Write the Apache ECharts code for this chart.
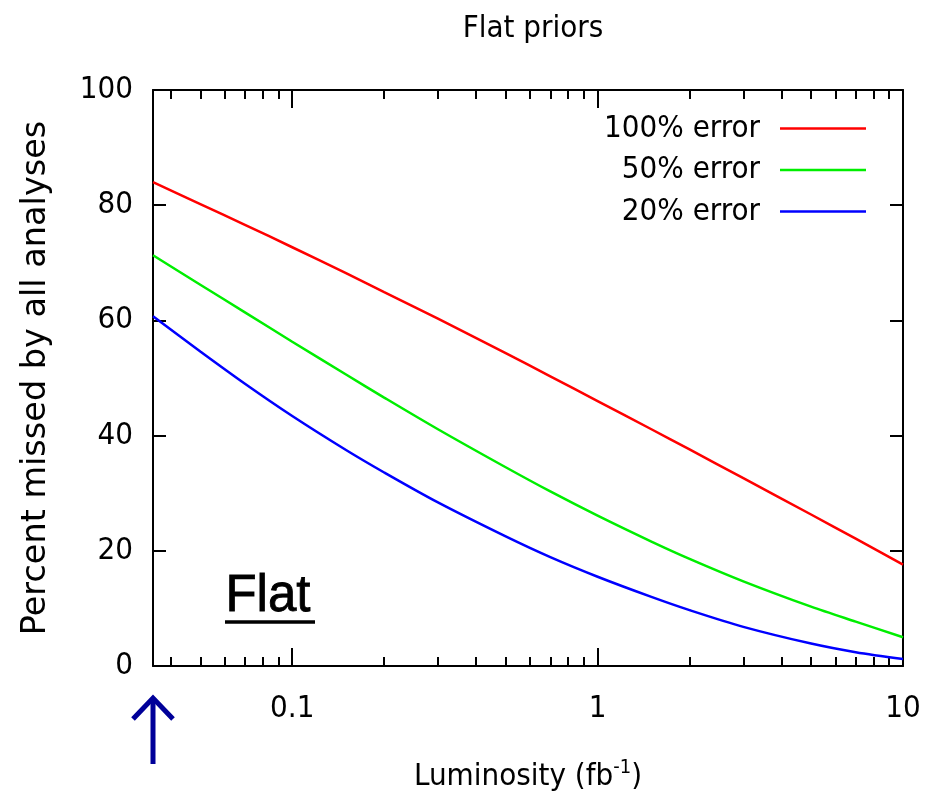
<!DOCTYPE html>
<html>
<head>
<meta charset="utf-8">
<script src="https://cdn.jsdelivr.net/npm/echarts@6/dist/echarts.min.js"></script>
<style>
  html, body { margin: 0; padding: 0; background: #ffffff; }
  #chart { width: 927px; height: 794px; }
</style>
</head>
<body>
<div id="chart"></div>
<script>
// Luminosity sample points (fb^-1)
const lumi = [0.035, 0.05, 0.07, 0.1, 0.15, 0.2, 0.3, 0.5, 0.7, 1, 1.5, 2, 3, 5, 7, 10];

// Percent missed by all analyses, per assumed error
const err100 = [84.0, 80.2, 76.6, 72.7, 68.2, 64.9, 60.3, 54.3, 50.3, 46.0, 41.1, 37.6, 32.6, 26.3, 22.1, 17.6];
const err50  = [71.3, 66.2, 61.4, 56.3, 50.6, 46.6, 41.1, 34.5, 30.3, 26.1, 21.6, 18.6, 14.7, 10.3, 7.7, 5.0];
const err20  = [60.7, 54.6, 49.0, 43.4, 37.5, 33.6, 28.4, 22.5, 18.9, 15.5, 12.0, 9.7, 6.8, 3.9, 2.4, 1.2];

const seriesNames = ['100% error', '50% error', '20% error'];
const seriesColors = ['#ff0000', '#00ee00', '#0000ff'];

// Tick positions on the log axis
const majorTicks = [0.1, 1, 10];
const minorTicks = [0.04, 0.05, 0.06, 0.07, 0.08, 0.09,
                    0.2, 0.3, 0.4, 0.5, 0.6, 0.7, 0.8, 0.9,
                    2, 3, 4, 5, 6, 7, 8, 9];

const FONT = '"DejaVu Sans Condensed", "DejaVu Sans", sans-serif';
const X_MIN = 0.035, X_MAX = 10;

const chart = echarts.init(document.getElementById('chart'));

function pairs(ys) { return lumi.map((x, i) => [x, ys[i]]); }

function logAxis(position, ticks, tickLen, withLine, withLabels) {
  return {
    type: 'log', logBase: 10, min: X_MIN, max: X_MAX, position: position,
    axisLine: { show: withLine, lineStyle: { color: '#000', width: 2 } },
    axisTick: { show: true, inside: true, length: tickLen, customValues: ticks,
                lineStyle: { color: '#000', width: 2 } },
    axisLabel: withLabels ? {
      show: true, customValues: majorTicks, margin: 27,
      fontFamily: FONT, fontSize: 31, color: '#000',
      formatter: v => String(v)
    } : { show: false },
    splitLine: { show: false }
  };
}

const bottomMajor = logAxis('bottom', majorTicks, 18, true, true);
bottomMajor.name = '{n|Luminosity (fb}{s|-1}{n|)}';
bottomMajor.nameLocation = 'middle';
bottomMajor.nameGap = 92;
bottomMajor.nameTextStyle = {
  rich: {
    n: { fontFamily: FONT, fontSize: 31, color: '#000', verticalAlign: 'bottom' },
    s: { fontFamily: FONT, fontSize: 20, color: '#000', verticalAlign: 'top', padding: [0, 0, 14, 0] }
  }
};

const option = {
  animation: false,
  backgroundColor: '#ffffff',
  title: {
    text: 'Flat priors', left: 528, top: 8, textAlign: 'center',
    textStyle: { fontFamily: FONT, fontSize: 31, fontWeight: 'normal', color: '#000' }
  },
  legend: seriesNames.map((name, i) => ({
    data: [name], orient: 'vertical', align: 'right',
    right: 61, top: 113 + i * 41.5, padding: 0,
    icon: 'rect', itemWidth: 86, itemHeight: 2.5,
    textStyle: { fontFamily: FONT, fontSize: 31, color: '#000', padding: [0, 15, 0, 0] }
  })),
  grid: { left: 153, right: 24, top: 90, bottom: 128, containLabel: false, outerBoundsMode: 'none' },
  xAxis: [
    bottomMajor,
    logAxis('bottom', minorTicks, 9, false, false),
    logAxis('top', majorTicks, 18, true, false),
    logAxis('top', minorTicks, 9, false, false)
  ],
  yAxis: [
    {
      type: 'value', min: 0, max: 100, interval: 20, position: 'left',
      name: 'Percent missed by all analyses', nameLocation: 'middle', nameGap: 100,
      nameTextStyle: { fontFamily: '"DejaVu Sans", sans-serif', fontSize: 33.5, color: '#000' },
      axisLine: { show: true, lineStyle: { color: '#000', width: 2 } },
      axisTick: { show: true, inside: true, length: 13, lineStyle: { color: '#000', width: 2 } },
      axisLabel: { fontFamily: FONT, fontSize: 31, color: '#000', margin: 20 },
      splitLine: { show: false }
    },
    {
      type: 'value', min: 0, max: 100, interval: 20, position: 'right',
      axisLine: { show: true, lineStyle: { color: '#000', width: 2 } },
      axisTick: { show: true, inside: true, length: 13, lineStyle: { color: '#000', width: 2 } },
      axisLabel: { show: false },
      splitLine: { show: false }
    }
  ],
  series: [err100, err50, err20].map((ys, i) => ({
    name: seriesNames[i], type: 'line', data: pairs(ys),
    xAxisIndex: 0, yAxisIndex: 0,
    symbol: 'none', smooth: 0.3,
    color: seriesColors[i],
    lineStyle: { color: seriesColors[i], width: 2.5 }
  })),
  graphic: [
    // "Flat" annotation with underline
    { type: 'text', left: 225, top: 571,
      style: { text: 'Flat', font: '51px "Liberation Sans", Arial, sans-serif', fill: '#000',
               stroke: '#000', lineWidth: 0.8 } },
    { type: 'line', shape: { x1: 225, y1: 622, x2: 315, y2: 622 },
      style: { stroke: '#000', lineWidth: 3.5 } },
    // arrow marking the lower luminosity edge
    { type: 'line', shape: { x1: 153, y1: 764, x2: 153, y2: 699 },
      style: { stroke: '#000099', lineWidth: 5 } },
    { type: 'polyline', shape: { points: [[133, 719], [153, 698], [173, 719]] },
      style: { stroke: '#000099', lineWidth: 5, fill: null } }
  ]
};

chart.setOption(option);
</script>
</body>
</html>
